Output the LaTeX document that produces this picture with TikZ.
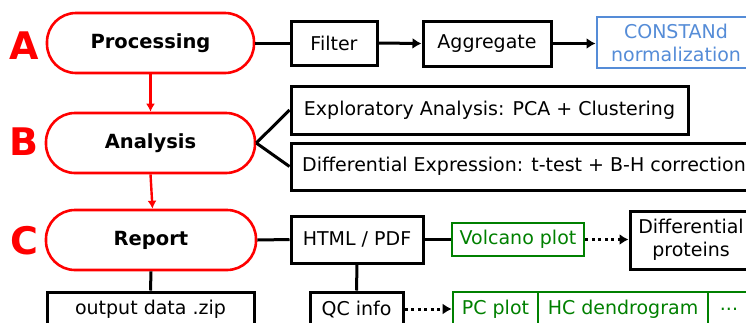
\documentclass[tikz,border=0pt]{standalone}
\usepackage{fontspec}
\setmainfont{DejaVu Sans}
\usetikzlibrary{arrows.meta}
\definecolor{cgreen}{RGB}{0,128,0}
\definecolor{cblue}{RGB}{85,140,215}
\begin{document}
\begin{tikzpicture}[x=1pt,y=-1pt,
  font=\fontsize{19}{23}\selectfont,
  stage/.style={draw=red, line width=2.6pt, rounded corners=29pt, minimum height=60pt, inner sep=0pt, font=\fontsize{19.5}{23}\selectfont\bfseries},
  letter/.style={text=red, font=\fontsize{38}{40}\selectfont\bfseries, inner sep=0pt},
  box/.style={draw=black, line width=3pt, inner sep=0pt, align=center},
  gbox/.style={draw=cgreen, text=cgreen, line width=2.6pt, inner sep=0pt, align=center},
  bbox/.style={draw=cblue, text=cblue, line width=2.8pt, inner sep=0pt, align=center},
  conn/.style={line width=3pt, black},
  arr/.style={line width=3pt, black, -{Latex[length=9pt,width=11pt]}},
  dotarr/.style={line width=3pt, black, dash pattern=on 3pt off 3.5pt, -{Latex[length=9pt,width=11pt]}},
  redarr/.style={line width=2.4pt, red, -{Latex[length=8pt,width=9pt]}}]
\useasboundingbox (0,0) rectangle (746,322);
\clip (0,0) rectangle (746,322);

% stages
\node[stage, minimum width=207pt] (proc) at (150.5,43) {Processing};
\node[stage, minimum width=209pt] (ana) at (150.5,143) {Analysis};
\node[stage, minimum width=210pt] (rep) at (151,240) {Report};
\node[letter] (la) at (24,46) {A};
\node[letter] (lb) at (24,142) {B};
\node[letter] (lc) at (24,241) {C};

% row A
\node[box, minimum width=86pt, minimum height=44pt] (filter) at (334,43) {Filter};
\node[box, minimum width=128pt, minimum height=45pt] (agg) at (487,43.5) {Aggregate};
\node[bbox, minimum width=158pt, minimum height=51pt] (const) at (676,42.5) {CONSTANd\\normalization};

% row B
\node[box, minimum width=397pt, minimum height=48pt] (expl) at (489.5,110) {Exploratory Analysis: PCA + Clustering};
\node[box, minimum width=466pt, minimum height=47pt] (diff) at (524,166.5) {Differential Expression: t-test + B-H correction};

% row C
\node[box, minimum width=132pt, minimum height=47pt] (html) at (357,239.5) {HTML / PDF};
\node[gbox, minimum width=132pt, minimum height=33pt] (volc) at (518,239.5) {Volcano plot};
\node[box, minimum width=122pt, minimum height=58pt] (dprot) at (691,240) {Differential\\proteins};
\node[box, minimum width=207pt, minimum height=34pt] (out) at (150.5,309) {output data .zip};
\node[box, minimum width=93pt, minimum height=34pt] (qc) at (356.5,309) {QC info};
\node[gbox, minimum width=85pt, minimum height=34pt] (pc) at (495.5,309) {PC plot};
\node[gbox, minimum width=170pt, minimum height=34pt] (hc) at (623,309) {HC dendrogram};
\node[gbox, minimum width=42pt, minimum height=34pt] (more) at (729,309) {...};

% connectors
\draw[conn] (proc.east) -- (filter.west);
\draw[arr] (filter.east) -- (agg.west);
\draw[arr] (agg.east) -- (const.west |- agg.east);
\draw[redarr] (proc.south) -- (ana.north);
\draw[redarr] (ana.south) -- ([xshift=1.5pt]rep.north);
\draw[conn] (ana.east) -- (expl.west);
\draw[conn] (ana.east) -- (diff.west);
\draw[conn] (rep.east) -- (html.west);
\draw[conn] (rep.south) -- (out.north);
\draw[conn] (html.south) -- (qc.north);
\draw[conn] (html.east) -- (volc.west);
\draw[dotarr] (volc.east) -- (dprot.west |- volc.east);
\draw[dotarr] (qc.east) -- (pc.west);
\end{tikzpicture}
\end{document}
